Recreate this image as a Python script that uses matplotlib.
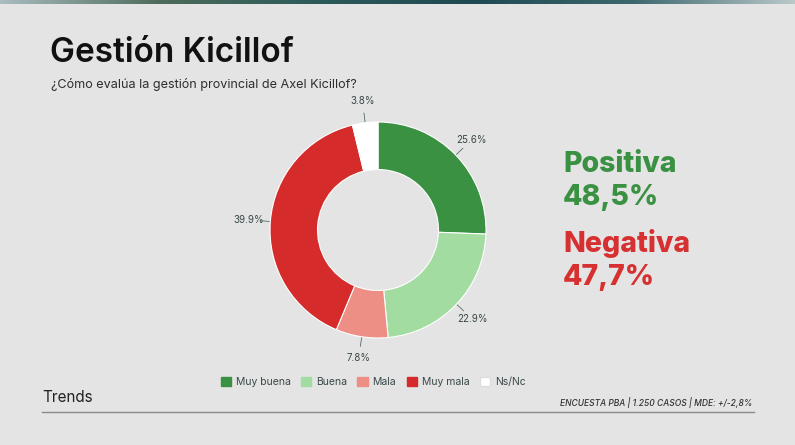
import numpy as np
import matplotlib
matplotlib.use('Agg')
import matplotlib.pyplot as plt
from matplotlib.colors import LinearSegmentedColormap
from matplotlib.lines import Line2D
from matplotlib.patches import Patch

plt.rcParams['font.family'] = ['Inter', 'DejaVu Sans']

# Data
categories = ['Muy buena', 'Buena', 'Mala', 'Muy mala', 'Ns/Nc']
values = [25.6, 22.9, 7.8, 39.9, 3.8]
colors = ['#3a9142', '#a3dca0', '#ee8f86', '#d52b2b', '#ffffff']
summary_labels = ['Positiva', 'Negativa']
summary_values = ['48,5%', '47,7%']
summary_colors = ['#3a9142', '#d73030']

W, H = 795, 445
BG = '#e4e4e4'
fig = plt.figure(figsize=(W / 100, H / 100), dpi=100, facecolor=BG)

# top gradient strip
strip = fig.add_axes([0, 1 - 4 / H, 1, 4 / H])
cmap = LinearSegmentedColormap.from_list(
    'strip', ['#a9bcbf', '#4d6b5b', '#2b5a5a', '#1d4a52', '#3e6870', '#b9c9c9'])
strip.imshow(np.linspace(0, 1, 256)[None, :], aspect='auto', cmap=cmap)
strip.axis('off')

# donut
cx, cy, R = 378, 230, 108
side = 320
ax = fig.add_axes([(cx - side / 2) / W, (H - cy - side / 2) / H, side / W, side / H])
ax.set_facecolor(BG)
wedges, _ = ax.pie(values, colors=colors, startangle=90, counterclock=False,
                   radius=1.0, wedgeprops=dict(width=0.44, edgecolor='white', linewidth=0.8))
lim = side / 2 / R
ax.set_xlim(-lim, lim)
ax.set_ylim(-lim, lim)
ax.set_aspect('equal')
ax.axis('off')

start = 90.0
for v in values:
    mid = np.deg2rad(start - v * 3.6 / 2)
    start -= v * 3.6
    c, s = np.cos(mid), np.sin(mid)
    ax.plot([1.01 * c, 1.09 * c], [1.01 * s, 1.09 * s], color='#5a6a6a', lw=0.6)
    ax.text(1.2 * c, 1.2 * s, f'{v:.1f}%', ha='center', va='center',
            fontsize=7, color='#3a4848')

# titles
fig.text(50 / W, 1 - 62 / H, 'Gestión Kicillof', fontsize=24, fontweight='semibold',
         color='#111111', va='baseline')
fig.text(51 / W, 1 - 88 / H, '¿Cómo evalúa la gestión provincial de Axel Kicillof?',
         fontsize=9.1, color='#2e2e2e', va='baseline')

# summary
y_base = [172, 252]
for lab, val, col, yb in zip(summary_labels, summary_values, summary_colors, y_base):
    fig.text(563 / W, 1 - yb / H, lab, fontsize=20.5, fontweight='heavy', color=col,
             va='baseline')
    fig.text(563 / W, 1 - (yb + 33) / H, val, fontsize=20.5, fontweight='heavy', color=col,
             va='baseline')

# legend
handles = [Patch(facecolor=c, edgecolor='#dddddd' if c == '#ffffff' else c) for c in colors]
fig.legend(handles, categories, loc='center', bbox_to_anchor=(373 / W, 1 - 382 / H),
           ncol=5, frameon=False, fontsize=7.5, handlelength=1.0, handleheight=1.0,
           columnspacing=1.0, handletextpad=0.45, labelcolor='#3a4848')

# footer
fig.text(42 / W, 1 - 398 / H, 'Trends', fontsize=11, color='#222222', va='center')
fig.text(752 / W, 1 - 403 / H, 'ENCUESTA PBA | 1.250 CASOS | MDE: +/-2,8%',
         fontsize=6.1, fontstyle='italic', fontweight='medium', color='#333333',
         ha='right', va='center')
fig.add_artist(Line2D([42 / W, 754 / W], [1 - 412 / H, 1 - 412 / H],
                      color='#8a8a8a', lw=1.0, transform=fig.transFigure))

fig.savefig('out.png', dpi=100, facecolor=BG)
